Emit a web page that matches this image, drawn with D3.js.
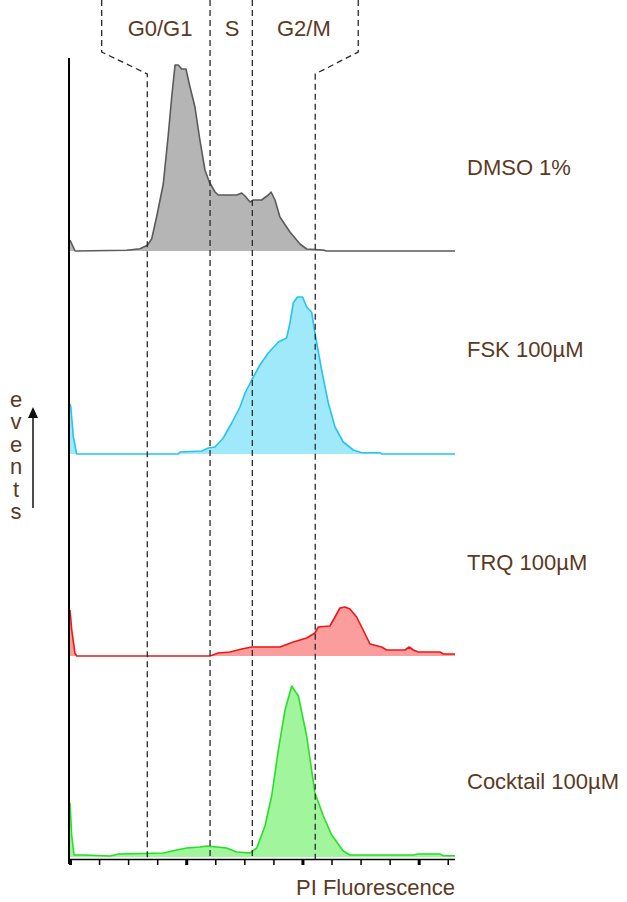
<!DOCTYPE html>
<html>
<head>
<meta charset="utf-8">
<script src="https://cdn.jsdelivr.net/npm/d3@7"></script>
<style>
  body { margin: 0; background: #fff; }
  text { font-family: "Liberation Sans", Arial, sans-serif; }
</style>
</head>
<body>
<svg id="chart" width="627" height="902"></svg>
<script>
// PI fluorescence channel vs events
const dmso = [[0,11],[3.5,0],[39,0.7],[48.2,2.3],[53.2,5.7],[56.2,12],[59.6,34],[64.2,67],[67.7,117],[70,154],
  [72.3,186],[74.5,186],[76.9,182],[79.8,182],[82.6,164],[86,144],[89.4,111],[92.9,81],[95.9,69],[99.8,59],
  [102.1,56],[114.8,56],[118.2,58],[120.5,55],[123.9,49],[126.2,51],[131.9,51],[136.5,56],[138.4,59],[141.1,51],
  [144.5,34],[151.4,19],[158.3,7],[162.9,2],[174.3,1],[176.7,0],[265,0]];
const fsk = [[0,50],[0.5,48],[2.3,17],[4.6,0],[74.5,0],[75.7,2],[90.7,3],[95.2,6],[99.8,7],[105.5,16],
  [111.3,31],[117,47],[120.5,61],[125.1,74],[130.7,89],[136.5,101],[143.4,112],[149.1,116],[151.4,131],[153.7,151],
  [156.5,157],[160.1,157],[162.9,147],[166.3,142],[168.6,121],[173.2,84],[177.8,51],[182.4,27],[188.1,12],[195,4],
  [200.8,1.3],[213.4,1.3],[214.5,0],[265,0]];
const trq = [[0,46],[1.2,26],[3.4,3],[4.6,0],[96.4,0],[102.1,3],[110.1,4],[118.2,7],[125.1,9],[144.5,9],
  [153.7,14],[162.9,18],[168.6,23],[170.9,29],[178.9,30],[182.4,39],[185.8,48],[189.3,49],[192.7,47],[197.3,39],
  [201.8,26],[206.5,12],[214.5,9],[217.9,6],[230.6,6],[233.5,9],[236.3,6],[239.7,4],[254.7,4],[257,2],[265,2]];
const cocktail = [[0,54],[1.2,21],[2.8,2],[10.3,2],[27.5,1],[33.3,3],[64.2,4],[73.4,7],[80.3,9],[89.4,10],
  [94.1,11],[100.9,10],[107.8,9],[114.7,5],[123.9,4],[128.5,9],[134.2,31],[138.8,61],[143.4,107],[148,147],
  [152.6,171],[157.2,161],[162.9,121],[168.6,64],[174.4,41],[180.1,22],[188.1,6],[192.7,2],[236.3,2],[239.7,3],
  [254.7,3],[257,1.3],[265,1.3]];

const sampleNames = ["DMSO 1%", "FSK 100\u00b5M", "TRQ 100\u00b5M", "Cocktail 100\u00b5M"];
const sampleData = [dmso, fsk, trq, cocktail];
const fills = ["#b5b5b5", "#a0e9fb", "#fc9d9d", "#a0f59d"];
const strokes = ["#5a5a5a", "#25c3ef", "#f01515", "#25e025"];

// gate boundaries (channel) and phase labels
const gateLines = [53.2, 96.4, 125.5, 168.8];
const bracketOuter = [21.8, 198.4];
const phaseNames = ["G0/G1", "S", "G2/M"];
const phaseCenters = [62, 111.5, 161];
const xTicks = d3.range(0, 261, 20);

const ink = "#5b3a1f";
const svg = d3.select("#chart");

const x = d3.scaleLinear().domain([0, 265]).range([70, 455]);
const h = d3.scaleLinear().domain([0, 200]).range([0, 200]);
const baselines = [251, 454, 656, 857];
const axisY = 859;

// histograms
sampleData.forEach(function(d, i) {
  let base = baselines[i];
  let area = d3.area()
    .x(function(p) { return x(p[0]); })
    .y0(base)
    .y1(function(p) { return base - h(p[1]); });
  let line = d3.line()
    .x(function(p) { return x(p[0]); })
    .y(function(p) { return base - h(p[1]); });

  svg.append("path").datum(d)
    .attr("fill", fills[i])
    .attr("d", area);
  svg.append("path").datum(d)
    .attr("fill", "none")
    .attr("stroke", strokes[i])
    .attr("stroke-width", 1.6)
    .attr("stroke-linejoin", "round")
    .attr("d", line);

  svg.append("text")
    .attr("x", 467)
    .attr("y", [175, 357, 570, 789][i])
    .attr("fill", ink)
    .attr("font-size", 22)
    .text(sampleNames[i]);
});

// gates
const gate = svg.append("g")
  .attr("fill", "none")
  .attr("stroke", "#2a2a2a")
  .attr("stroke-width", 1.3)
  .attr("stroke-dasharray", "6,4");

gate.append("path")
  .attr("d", d3.line()([[x(bracketOuter[0]), 0], [x(bracketOuter[0]), 52], [x(gateLines[0]), 74], [x(gateLines[0]), 860]]));
gate.append("path")
  .attr("d", d3.line()([[x(bracketOuter[1]), 0], [x(bracketOuter[1]), 52], [x(gateLines[3]), 74], [x(gateLines[3]), 860]]));
[gateLines[1], gateLines[2]].forEach(function(g) {
  gate.append("line")
    .attr("x1", x(g)).attr("x2", x(g))
    .attr("y1", 0).attr("y2", 860);
});

svg.selectAll(".phase")
  .data(phaseNames)
  .enter().append("text")
  .attr("class", "phase")
  .attr("x", function(d, i) { return x(phaseCenters[i]); })
  .attr("y", 36)
  .attr("text-anchor", "middle")
  .attr("fill", ink)
  .attr("font-size", 22)
  .text(function(d) { return d; });

// axes
svg.append("line")
  .attr("x1", 69).attr("x2", 69)
  .attr("y1", 58).attr("y2", 864)
  .attr("stroke", "#000")
  .attr("stroke-width", 2);

const xAxis = svg.append("g")
  .attr("transform", "translate(0," + axisY + ")")
  .call(d3.axisBottom(x).tickValues(xTicks).tickSize(6).tickFormat("").tickSizeOuter(0));
xAxis.select(".domain").attr("stroke", "#000").attr("stroke-width", 1.5).attr("d", "M69,0.5H455");
xAxis.selectAll(".tick line")
  .attr("stroke", "#000")
  .attr("stroke-width", function(d) { return d % 80 === 0 ? 3 : 1.5; });

svg.append("text")
  .attr("x", 455)
  .attr("y", 895)
  .attr("text-anchor", "end")
  .attr("fill", ink)
  .attr("font-size", 22)
  .text("PI Fluorescence");

// events label (one vertical text) with arrow
svg.append("text")
  .attr("x", 16)
  .attr("y", 387)
  .attr("fill", ink)
  .attr("font-size", 22)
  .style("writing-mode", "vertical-lr")
  .style("text-orientation", "upright")
  .style("letter-spacing", "-2.6px")
  .text("events");

svg.append("line")
  .attr("x1", 33).attr("x2", 33)
  .attr("y1", 508).attr("y2", 416)
  .attr("stroke", "#111")
  .attr("stroke-width", 1.5);
svg.append("path")
  .attr("d", "M33,407L28,418H38Z")
  .attr("fill", "#111");
</script>
</body>
</html>
